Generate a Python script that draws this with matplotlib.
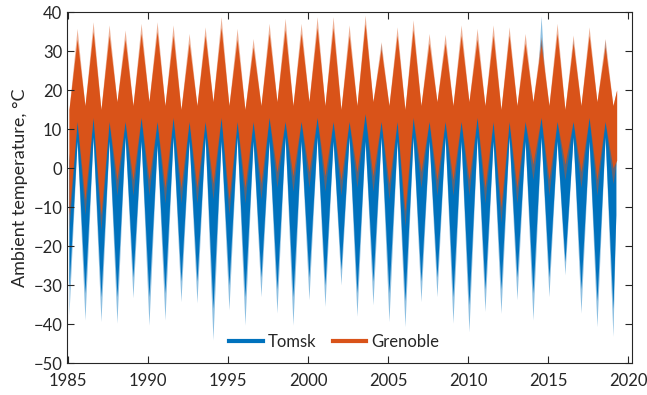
"""
Ambient temperature at Tomsk and Grenoble, 1985-2019.
Envelope of the daily record read off the source figure (winter / summer extremes per year).
"""
import numpy as np
import matplotlib
matplotlib.use("Agg")
import matplotlib.pyplot as plt
from matplotlib.lines import Line2D

plt.rcParams["font.family"] = ["Lato", "DejaVu Sans"]
plt.rcParams["font.size"] = 12

years = np.arange(1985, 2020)

# Tomsk: winter lows (Jan), light tips and solid core
tomsk_win_min = [-37.7, -39, -39.4, -39.8, -33.3, -40.3, -39, -34.3, -34.6, -44.1, -36.4, -40.3,
                 -33, -37.2, -40.3, -33.8, -35.5, -30, -38, -35.1, -39.4, -40.7, -34.3, -33,
                 -39.8, -42, -36.8, -37.3, -33.8, -39, -33, -27.4, -37.2, -40.7, -43.2]
tomsk_win_core = [-31, -32, -33, -33, -28, -33, -32, -29, -29, -36, -30, -33,
                  -28, -31, -33, -28, -30, -26, -32, -29, -32, -34, -29, -28,
                  -33, -35, -31, -31, -28, -32, -28, -24, -31, -34, -36]
tomsk_win_hi = [2, 3, 2, 3, 4, 3, 2, 3, 4, 2, 3, 3,
                2, 3, 3, 4, 2, 3, 3, 2, 3, 2, 4, 3,
                3, 2, 3, 3, 4, 2, 3, 4, 3, 2, 3]
# Tomsk: summer (Jul), 1985-2018
tomsk_sum_max = [31, 32, 32, 31, 33, 31, 32, 31, 32, 33, 32, 31,
                 32, 33, 32, 33, 32, 31, 33, 32, 33, 31, 32, 31,
                 32, 33, 32, 34, 31, 39, 32, 33, 32, 33]
tomsk_sum_core = [29, 30, 30, 29, 31, 29, 30, 29, 30, 31, 30, 29,
                  30, 31, 30, 31, 30, 29, 31, 30, 31, 29, 30, 29,
                  30, 31, 30, 32, 29, 33, 30, 31, 30, 31]
tomsk_sum_lo = [7, 8, 7, 8, 7, 6, 8, 7, 8, 7, 8, 7,
                7, 8, 7, 8, 7, 8, 7, 8, 7, 8, 7, 8,
                7, 8, 7, 8, 7, 8, 7, 8, 7, 8]
tomsk_end = (2019.22, -12, 6)

# Grenoble: summer highs (Jul), 1985-2018
gren_sum_max = [35.8, 37.5, 36.7, 35.4, 37.1, 37.5, 36.7, 34.5, 36.2, 38.8, 35.8, 33.2,
                37.1, 38.4, 37.1, 38.8, 38.8, 36.7, 39.2, 32.4, 36.2, 38, 34.5, 34.3,
                36.7, 35.8, 36.7, 36.2, 34.5, 33.7, 37.1, 34.1, 36.2, 33.2]
gren_sum_core = [33, 35, 34, 33, 34.5, 35, 34, 32, 34, 36, 33, 31,
                 34.5, 35.5, 34.5, 36, 36, 34, 37, 30.5, 34, 35.5, 32, 32,
                 34, 33, 34, 34, 32, 31.5, 34.5, 32, 34, 31]
gren_sum_lo = [12, 13, 12, 12, 13, 12, 13, 12, 12, 13, 12, 12,
               13, 12, 12, 13, 12, 12, 14, 12, 12, 13, 12, 12,
               12, 13, 12, 12, 12, 13, 12, 12, 13, 12]
# Grenoble: winter (Jan), 1985-2019
gren_win_min = [-16, -12, -16, -7, -7, -7, -9, -9, -9, -8, -12, -9,
                -8, -5, -6, -5, -6, -7, -5, -6, -8, -15, -5, -7,
                -7, -7, -9, -14, -9, -3, -7, -3, -5, -7, -4]
gren_win_core = [-12, -8, -12, -3, -3, -3, -5, -5, -5, -4, -8, -5,
                 -4, -1, -2, -1, -2, -3, -1, -2, -4, -11, -1, -3,
                 -3, -3, -5, -10, -5, 1, -3, 1, -1, -3, 0]
gren_win_hi = [15, 16, 15, 17, 16, 17, 16, 15, 16, 17, 16, 15,
               16, 17, 16, 17, 16, 15, 16, 17, 16, 15, 16, 17,
               16, 17, 16, 15, 16, 17, 16, 15, 16, 17, 16]
gren_end = (2019.27, 2, 20)

TOMSK = "#0072BD"
GREN = "#D95319"


def envelope(win, summ, end_val, end_t):
    # Jan 15 and Jul 15 of each year, then the last record
    t = np.empty(len(win) + len(summ))
    v = np.empty_like(t)
    t[0::2] = years + 0.04
    t[1::2] = years[:-1] + 0.55
    v[0::2] = win
    v[1::2] = summ
    return np.append(t, end_t), np.append(v, end_val)


def band(ax, win_lo, sum_lo, win_hi, sum_hi, end, color, alpha):
    t, lo = envelope(win_lo, sum_lo, end[1], end[0])
    _, hi = envelope(win_hi, sum_hi, end[2], end[0])
    ax.fill_between(t, lo, hi, color=color, alpha=alpha, lw=0)


fig, ax = plt.subplots(figsize=(6.47, 3.95), dpi=100)
fig.subplots_adjust(left=0.1036, right=0.9768, bottom=0.081, top=0.9696)

band(ax, tomsk_win_min, tomsk_sum_lo, tomsk_win_hi, tomsk_sum_max, tomsk_end, TOMSK, 0.45)
band(ax, tomsk_win_core, tomsk_sum_lo, tomsk_win_hi, tomsk_sum_core, tomsk_end, TOMSK, 1.0)
band(ax, gren_win_min, gren_sum_lo, gren_win_hi, gren_sum_max, gren_end, GREN, 0.45)
band(ax, gren_win_core, gren_sum_lo, gren_win_hi, gren_sum_core, gren_end, GREN, 1.0)

ax.set_xlim(1984.92, 2020.23)
ax.set_ylim(-50, 40)
ax.set_xticks(np.arange(1985, 2021, 5))
ax.set_yticks(np.arange(-50, 41, 10))
ax.tick_params(direction="in", top=True, right=True, length=5, width=0.8,
               colors="#262626", labelcolor="#262626")
ax.tick_params(axis="x", pad=7)
for s in ax.spines.values():
    s.set_color("#262626")
    s.set_linewidth(0.8)
ax.set_ylabel("Ambient temperature, °C", color="#262626", fontsize=13)

handles = [Line2D([], [], color=TOMSK, lw=3), Line2D([], [], color=GREN, lw=3)]
ax.legend(handles, ["Tomsk", "Grenoble"], loc="center", bbox_to_anchor=(0.473, 0.06),
          ncol=2, frameon=False, handlelength=2.0, columnspacing=1.0, handletextpad=0.3,
          fontsize=12, labelcolor="#262626")

fig.savefig("out.png", dpi=100)
print("Saved -> out.png")
